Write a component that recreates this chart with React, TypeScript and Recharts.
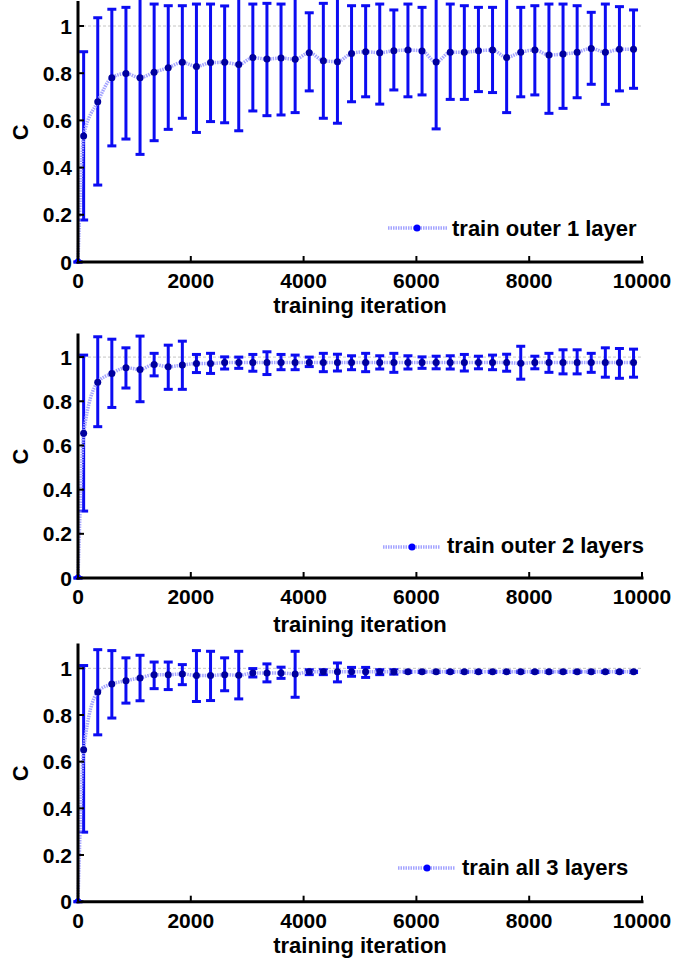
import React from 'react';
import { LineChart, Line, XAxis, YAxis, ErrorBar, ReferenceLine, Legend } from 'recharts';

const FONT = '"Liberation Sans", Arial, Helvetica, sans-serif';

const iterations = [0, 100, 350, 600, 850, 1100, 1350, 1600, 1850, 2100, 2350, 2600, 2850, 3100, 3350, 3600, 3850, 4100, 4350, 4600, 4850, 5100, 5350, 5600, 5850, 6100, 6350, 6600, 6850, 7100, 7350, 7600, 7850, 8100, 8350, 8600, 8850, 9100, 9350, 9600, 9850];
const xTicks = [0, 2000, 4000, 6000, 8000, 10000];
const yTicks = [0, 0.2, 0.4, 0.6, 0.8, 1];
const seriesNames = ['train outer 1 layer', 'train outer 2 layers', 'train all 3 layers'];
const xTitle = 'training iteration';
const yTitle = 'C';

const outer1Mean = [0, 0.534, 0.679, 0.781, 0.799, 0.781, 0.804, 0.823, 0.846, 0.828, 0.845, 0.846, 0.837, 0.866, 0.860, 0.864, 0.859, 0.887, 0.853, 0.849, 0.884, 0.891, 0.887, 0.895, 0.898, 0.894, 0.847, 0.889, 0.889, 0.895, 0.898, 0.867, 0.889, 0.898, 0.877, 0.881, 0.889, 0.905, 0.889, 0.901, 0.901];
const outer1High = [0, 0.891, 1.035, 1.071, 1.079, 1.12, 1.093, 1.086, 1.086, 1.093, 1.093, 1.085, 1.12, 1.093, 1.096, 1.093, 1.12, 1.056, 1.096, 1.12, 1.086, 1.086, 1.093, 1.068, 1.093, 1.079, 1.12, 1.093, 1.086, 1.079, 1.079, 1.12, 1.079, 1.086, 1.093, 1.093, 1.086, 1.058, 1.093, 1.082, 1.068];
const outer1Low = [0, 0.178, 0.326, 0.492, 0.521, 0.456, 0.514, 0.562, 0.609, 0.549, 0.595, 0.590, 0.556, 0.640, 0.620, 0.623, 0.633, 0.725, 0.609, 0.588, 0.679, 0.700, 0.669, 0.729, 0.700, 0.708, 0.564, 0.689, 0.689, 0.722, 0.718, 0.633, 0.700, 0.708, 0.630, 0.651, 0.696, 0.753, 0.668, 0.725, 0.736];

const outer2Mean = [0, 0.655, 0.886, 0.926, 0.952, 0.944, 0.967, 0.956, 0.964, 0.971, 0.971, 0.975, 0.975, 0.975, 0.975, 0.976, 0.976, 0.976, 0.975, 0.975, 0.975, 0.975, 0.975, 0.975, 0.975, 0.975, 0.975, 0.975, 0.975, 0.975, 0.975, 0.975, 0.972, 0.975, 0.975, 0.975, 0.975, 0.975, 0.975, 0.975, 0.975];
const outer2High = [0, 1.009, 1.092, 1.081, 1.042, 1.095, 1.017, 1.054, 1.072, 1.012, 1.017, 1.001, 1.000, 1.012, 1.024, 1.012, 1.009, 1.000, 1.017, 1.013, 1.006, 1.017, 1.006, 1.017, 1.006, 1.001, 1.004, 1.006, 1.012, 1.004, 1.009, 1.013, 1.049, 1.004, 1.017, 1.033, 1.033, 1.017, 1.042, 1.039, 1.036];
const outer2Low = [0, 0.303, 0.685, 0.772, 0.860, 0.798, 0.915, 0.854, 0.854, 0.930, 0.926, 0.946, 0.949, 0.936, 0.921, 0.943, 0.943, 0.957, 0.934, 0.937, 0.943, 0.934, 0.946, 0.931, 0.946, 0.949, 0.947, 0.946, 0.937, 0.947, 0.943, 0.936, 0.900, 0.947, 0.931, 0.924, 0.924, 0.931, 0.909, 0.904, 0.909];

const all3Mean = [0, 0.651, 0.899, 0.933, 0.947, 0.959, 0.973, 0.973, 0.976, 0.969, 0.969, 0.973, 0.970, 0.980, 0.980, 0.980, 0.976, 0.985, 0.985, 0.985, 0.985, 0.985, 0.985, 0.985, 0.985, 0.985, 0.985, 0.985, 0.985, 0.985, 0.985, 0.985, 0.985, 0.985, 0.985, 0.985, 0.985, 0.985, 0.985, 0.985, 0.985];
const all3High = [0, 1.012, 1.080, 1.076, 1.045, 1.056, 1.027, 1.027, 1.016, 1.076, 1.073, 1.045, 1.073, 0.999, 1.019, 1.005, 1.073, 0.994, 0.994, 1.023, 1.004, 1.004, 0.994, 0.994, 0.988, 0.988, 0.988, 0.988, 0.988, 0.988, 0.988, 0.988, 0.988, 0.988, 0.988, 0.988, 0.988, 0.988, 0.988, 0.988, 0.988];
const all3Low = [0, 0.298, 0.715, 0.787, 0.851, 0.861, 0.913, 0.909, 0.930, 0.858, 0.862, 0.904, 0.869, 0.963, 0.942, 0.957, 0.876, 0.973, 0.973, 0.942, 0.966, 0.961, 0.973, 0.975, 0.982, 0.982, 0.982, 0.982, 0.982, 0.982, 0.982, 0.982, 0.982, 0.982, 0.982, 0.982, 0.982, 0.982, 0.982, 0.982, 0.982];

function buildRows(mean: number[], low: number[], high: number[]) {
  return iterations.map((it, i) => ({
    it,
    c: mean[i],
    err: [mean[i] - low[i], high[i] - mean[i]],
  }));
}

const datasets = [
  buildRows(outer1Mean, outer1Low, outer1High),
  buildRows(outer2Mean, outer2Low, outer2High),
  buildRows(all3Mean, all3Low, all3High),
];

const panels = [
  { top: 0, height: 320, marginTop: 2.4, xAxisHeight: 58, labelOffset: 7, legend: { left: 388, top: 208, lineEnd: 59, dotX: 29, textX: 64, textY: 28 } },
  { top: 320, height: 320, marginTop: 15, xAxisHeight: 62, labelOffset: 8.3, legend: { left: 383, top: 207, lineEnd: 57, dotX: 29, textX: 64, textY: 26 } },
  { top: 640, height: 321, marginTop: 5, xAxisHeight: 59.3, labelOffset: 8.3, legend: { left: 398, top: 208, lineEnd: 57, dotX: 29, textX: 64, textY: 27 } },
];

const LINE_COLOR = '#a4a4ff';
const BAR_COLOR = '#0c0cf2';
const DOT_COLOR = '#00009e';

const XTick = (props: any) => {
  const { x, y, payload } = props;
  return (
    <g>
      <line x1={x} x2={x} y1={y} y2={y - 6} stroke="#000" strokeWidth={2} />
      <text x={x} y={y + 26} textAnchor="middle" fontSize={21} fontWeight="bold" fontFamily={FONT} fill="#000">
        {String(payload.value)}
      </text>
    </g>
  );
};

const YTick = (props: any) => {
  const { x, y, payload } = props;
  return (
    <g>
      <line x1={x} x2={x + 6} y1={y} y2={y} stroke="#000" strokeWidth={2} />
      <text x={x - 6} y={y + 7.5} textAnchor="end" fontSize={21} fontWeight="bold" fontFamily={FONT} fill="#000">
        {String(payload.value)}
      </text>
    </g>
  );
};

const renderDot = (p: any) => {
  if (p.cx == null || p.cy == null) return <g key={`d-${p.index}`} />;
  return <circle key={`d-${p.index}`} cx={p.cx} cy={p.cy} r={3.5} fill={p.index === 0 ? '#0000ff' : DOT_COLOR} />;
};

const YLabel = (props: any) => {
  const vb = props.viewBox || {};
  const cy = (vb.y || 0) + (vb.height || 0) / 2;
  const x0 = 28;
  return (
    <text x={x0} y={cy} transform={`rotate(-90, ${x0}, ${cy})`} textAnchor="middle" fontSize={22} fontWeight="bold" fontFamily={FONT} fill="#000">
      {yTitle}
    </text>
  );
};

function Panel({ idx }: { idx: number }) {
  const p = panels[idx];
  const lg = p.legend;
  return (
    <div style={{ position: 'absolute', left: 0, top: p.top }}>
      <LineChart width={674} height={p.height} data={datasets[idx]} margin={{ top: p.marginTop, right: 32, bottom: 0, left: 0 }}>
        <XAxis
          dataKey="it"
          type="number"
          domain={[0, 10000]}
          ticks={xTicks}
          interval={0}
          height={p.xAxisHeight}
          tickSize={0}
          tickMargin={0}
          tickLine={false}
          tick={<XTick />}
          axisLine={{ stroke: '#000', strokeWidth: 3, strokeLinecap: 'square' }}
          label={{ value: xTitle, position: 'insideBottom', offset: p.labelOffset, fontSize: 22, fontWeight: 'bold', fill: '#000', fontFamily: FONT }}
        />
        <YAxis
          type="number"
          domain={[0, 1.1]}
          ticks={yTicks}
          interval={0}
          allowDataOverflow
          width={78}
          tickSize={0}
          tickMargin={0}
          tickLine={false}
          tick={<YTick />}
          axisLine={{ stroke: '#000', strokeWidth: 3, strokeLinecap: 'square' }}
          label={<YLabel />}
        />
        <ReferenceLine y={1} stroke="#c4c4c4" strokeWidth={1} strokeDasharray="3 2" />
        <Line
          dataKey="c"
          type="monotone"
          stroke={LINE_COLOR}
          strokeWidth={3.5}
          strokeDasharray="1.5 1"
          dot={false}
          activeDot={false}
          isAnimationActive={false}
          legendType="none"
        >
          <ErrorBar dataKey="err" width={4.5} strokeWidth={3} stroke={BAR_COLOR} direction="y" />
        </Line>
        <Line
          dataKey="c"
          type="monotone"
          stroke="none"
          dot={renderDot}
          activeDot={false}
          isAnimationActive={false}
          name={seriesNames[idx]}
        />
        <Legend
          layout="horizontal"
          verticalAlign="middle"
          align="center"
          wrapperStyle={{ left: lg.left, top: lg.top, width: 282, height: 40 }}
          content={() => (
            <svg width={282} height={40} style={{ display: 'block', overflow: 'visible' }}>
              <line x1={0} x2={lg.lineEnd} y1={20} y2={20} stroke={LINE_COLOR} strokeWidth={3.5} strokeDasharray="1.5 1" />
              <circle cx={lg.dotX} cy={20} r={3.5} fill="#0000ff" />
              <text x={lg.textX} y={lg.textY} fontSize={22} fontWeight="bold" fontFamily={FONT} fill="#000">
                {seriesNames[idx]}
              </text>
            </svg>
          )}
        />
      </LineChart>
    </div>
  );
}

export default function App() {
  return (
    <div style={{ position: 'absolute', left: 0, top: 0, width: 674, height: 961, background: '#fff' }}>
      <Panel idx={0} />
      <Panel idx={1} />
      <Panel idx={2} />
    </div>
  );
}
